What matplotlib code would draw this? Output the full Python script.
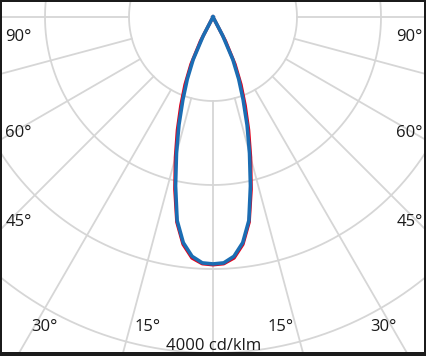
import matplotlib
matplotlib.use("Agg")
import matplotlib.pyplot as plt
import numpy as np
from matplotlib.patches import Rectangle

# gamma angles (deg) and luminous intensity (cd/klm)
angles = [0, 2.5, 5, 7.5, 10, 12.5, 15, 17.5, 20, 22.5, 25, 27.5, 30]
c0_c180 = [2950, 2940, 2880, 2730, 2480, 2100, 1730, 1410, 1120, 870, 620, 320, 0]
c90_c270 = [2940, 2930, 2860, 2710, 2460, 2060, 1680, 1350, 1050, 800, 560, 250, 0]

ring_values = [1000, 2000, 3000, 4000, 5000]
spoke_step = 15
scale_label = "4000 cd/klm"
angle_labels = ["90°", "60°", "45°", "30°", "15°"]

W, H = 427, 356
CX, CY = 213, 17          # polar centre, pixels from top-left
R = 420                   # pixel radius of r = 5000
GRID = "#d6d6d6"


def mirrored(vals):
    th = np.deg2rad(np.array(angles))
    v = np.array(vals, dtype=float)
    return np.concatenate([-th[::-1], th[1:]]), np.concatenate([v[::-1], v[1:]])


fig = plt.figure(figsize=(W / 100, H / 100), dpi=100)
ax = fig.add_axes([(CX - R) / W, (H - CY - R) / H, 2 * R / W, 2 * R / H], projection="polar")
ax.set_theta_zero_location("S")
ax.set_ylim(0, ring_values[-1])
ax.axis("off")

full = np.linspace(0, 2 * np.pi, 721)
for rv in ring_values:
    ax.plot(full, np.full_like(full, rv), color=GRID, lw=1.3, zorder=1)
for a in range(0, 360, spoke_step):
    t = np.deg2rad(a)
    ax.plot([t, t], [ring_values[0], ring_values[-1]], color=GRID, lw=1.3, zorder=1)

th, r = mirrored(c0_c180)
ax.plot(th, r, color="#e2001a", lw=2.4, zorder=3, solid_joinstyle="round")
th, r = mirrored(c90_c270)
ax.plot(th, r, color="#1b6db3", lw=2.6, zorder=4, solid_joinstyle="round")

font = dict(family=["Open Sans", "DejaVu Sans"], fontsize=12, color="#1a1a1a")
# side labels: (text, centre x, baseline y) in pixels
for lab, y in [(angle_labels[0], 41), (angle_labels[1], 137), (angle_labels[2], 226)]:
    fig.text(18.5 / W, 1 - y / H, lab, ha="center", va="baseline", **font)
    fig.text(409.5 / W, 1 - y / H, lab, ha="center", va="baseline", **font)
for lab, x in [(angle_labels[3], 44), (angle_labels[4], 147.5), (angle_labels[4], 280.5), (angle_labels[3], 383.5)]:
    fig.text(x / W, 1 - 331 / H, lab, ha="center", va="baseline", **font)
fig.text(213.5 / W, 1 - 350 / H, scale_label, ha="center", va="baseline", **font)

# dark frame around the picture
edge = "#1b1b1b"
for x0, y0, w, h in [(0, 0, 2, H), (W - 3, 0, 3, H), (0, 0, W, 1.8), (0, H - 4, W, 4)]:
    fig.add_artist(Rectangle((x0 / W, 1 - (y0 + h) / H), w / W, h / H,
                             transform=fig.transFigure, color=edge, lw=0, zorder=10))

fig.savefig("out.png", dpi=100)
